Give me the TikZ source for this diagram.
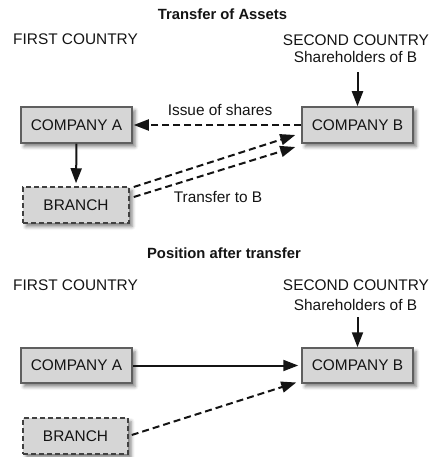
\documentclass[tikz,border=0pt]{standalone}
\usepackage{fontspec}
\setmainfont{Liberation Sans}
\usetikzlibrary{arrows.meta,shadows.blur,calc}

\definecolor{boxfill}{RGB}{214,214,214}
\definecolor{boxedge}{RGB}{95,95,95}
\definecolor{dashedge}{RGB}{65,65,65}
\definecolor{ink}{RGB}{20,20,20}

\begin{document}
\begin{tikzpicture}[x=1pt,y=-1pt,
  txt/.style={font=\fontsize{15.4}{18}\selectfont,inner sep=0pt,text=ink},
  heading/.style={font=\fontsize{14.8}{18}\selectfont\bfseries,inner sep=0pt,text=ink},
  boxshadow/.style={blur shadow={shadow xshift=3pt,shadow yshift=-3.5pt,
      shadow blur radius=3.5pt,shadow opacity=50}},
  company/.style={draw=boxedge,fill=boxfill,line width=1.5pt,
      minimum width=111pt,minimum height=36pt,inner sep=0pt,text=ink,
      font=\fontsize{15.4}{18}\selectfont,boxshadow},
  branchbox/.style={draw=dashedge,fill=boxfill,line width=1.5pt,
      dash pattern=on 5pt off 3pt,
      minimum width=106pt,minimum height=36pt,inner sep=0pt,text=ink,
      font=\fontsize{15.4}{18}\selectfont,boxshadow},
  arr/.style={draw=ink,line width=2pt,-{Triangle[length=15pt,width=11pt]}},
  darr/.style={arr,dash pattern=on 7pt off 4pt},
]
\useasboundingbox (0,0) rectangle (429,457);

% ---------- Transfer of Assets ----------
\node[heading,anchor=base] (title1) at (222.5,20) {Transfer of Assets};
\node[txt,anchor=base west] (first1) at (13,45) {FIRST COUNTRY};
\node[txt,anchor=base] (second1) at (356,46) {SECOND COUNTRY};
\node[txt,anchor=base] (share1) at (355.5,63) {Shareholders of B};

\node[company] (A1) at (76.5,125) {COMPANY A};
\node[company] (B1) at (357.5,125) {COMPANY B};
\node[branchbox] (Br1) at (76,205) {BRANCH};

\draw[arr] ([yshift=-9pt]share1.south -| B1.north) -- (B1.north);
\draw[darr,shorten >=1pt] (B1.west) -- (A1.east);
\draw[arr,shorten >=3pt] (A1.south) -- (Br1.north);
\draw[darr] ($(Br1.east)+(4,-18)$) -- ($(B1.west)+(-6,10)$);
\draw[darr] ($(Br1.east)+(4,-8)$) -- ($(B1.west)+(-6,22)$);

\node[txt,anchor=base] (issue) at (220,116) {Issue of shares};
\node[txt,anchor=base] (transfer) at (218,202) {Transfer to B};

% ---------- Position after transfer ----------
\node[heading,anchor=base] (title2) at (224,258) {Position after transfer};
\node[txt,anchor=base west] (first2) at (13,290) {FIRST COUNTRY};
\node[txt,anchor=base] (second2) at (356,290) {SECOND COUNTRY};
\node[txt,anchor=base] (share2) at (355.5,310) {Shareholders of B};

\node[company,minimum height=35pt] (A2) at (76.5,365.5) {COMPANY A};
\node[company,minimum height=35pt] (B2) at (357.5,365.5) {COMPANY B};
\node[branchbox,minimum width=105pt] (Br2) at (75.5,436) {BRANCH};

\draw[arr] ([yshift=-7pt]share2.south -| B2.north) -- (B2.north);
\draw[arr,shorten >=3pt] (A2.east) -- (B2.west);
\draw[darr] ($(Br2.east)+(3,-1)$) -- ($(B2.west)+(-5,17)$);
\end{tikzpicture}
\end{document}
